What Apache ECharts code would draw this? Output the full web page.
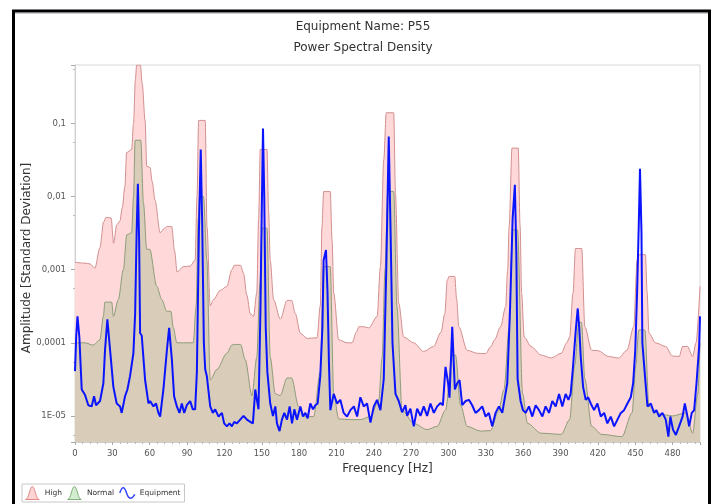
<!DOCTYPE html>
<html>
<head>
<meta charset="utf-8">
<script src="https://cdn.jsdelivr.net/npm/echarts@6/dist/echarts.min.js"></script>
<style>
html,body{margin:0;padding:0;background:#fff;}
#chart{width:713px;height:504px;}
</style>
</head>
<body>
<div id="chart"></div>
<script>
// ---- data ----
var titleText = 'Equipment Name: P55';
var subTitleText = 'Power Spectral Density';
var xAxisName = 'Frequency [Hz]';
var yAxisName = 'Amplitude [Standard Deviation]';
var xTickValues = [0,30,60,90,120,150,180,210,240,270,300,330,360,390,420,450,480];
var yTickValues = [1e-5, 1e-4, 1e-3, 1e-2, 1e-1];
var yTickLabels = ['1E-05', '0,0001', '0,001', '0,01', '0,1'];
var seriesNames = ['High', 'Normal', 'Equipment'];

var highFreq = [0,8,12,16,20,23,25,29,31,33.5,36,38,40,41.5,45.5,47,48.5,49.5,52.5,54,56.3,57.6,60.3,62,64.3,68.4,72,74,77.7,80,82,87,92.5,96.5,98,99.3,104.6,106,108.6,111.2,116.6,122,126,128,133,135.4,138,140.8,143.4,146,147.5,148.8,154.2,155.5,156.8,159.5,164.9,170.3,174,177,181,186.4,194.4,197,198.4,199.7,205,206.5,207.8,211.8,218.5,222.5,226,228,232,236,242.7,245.3,248,250,256,257.4,260,264,272,280,288,294,297,299,300.5,305,306.5,308.3,315,323,329.8,334,337,341.8,345.9,347.5,348.7,351,356,357.5,358.7,360.8,366.3,374.4,382.5,390.6,395,397.3,400,402,407,409.5,415,420.3,428.4,436.6,443.3,448.8,451.5,452.8,458.2,459.5,461,466.3,474.5,479.8,485.3,488,492,496.1,498.8,502];
var highAmp = [1.26e-3,1.23e-3,1.2e-3,1.05e-3,2.0e-3,4.5e-3,5.2e-3,5.1e-3,2.3e-3,4.1e-3,4.6e-3,7.1e-3,0.0135,0.040,0.044,0.1,0.4,0.63,0.63,0.35,0.11,0.026,0.025,0.016,8.9e-3,3.2e-3,3.7e-3,3.9e-3,3.9e-3,1.8e-3,9.3e-4,1.1e-3,1.12e-3,1.35e-3,0.01,0.11,0.11,3.9e-3,3.2e-4,3.9e-4,5.2e-4,5.9e-4,1.0e-3,1.15e-3,1.15e-3,8.9e-4,4.5e-4,2.5e-4,2.3e-4,4.8e-4,5e-3,0.044,0.044,6.3e-3,1.35e-3,3.9e-4,2.1e-4,3.8e-4,3.8e-4,2.5e-4,1.35e-4,1.15e-4,1.17e-4,3.2e-4,3.9e-3,0.0117,0.0117,2.5e-3,4.8e-4,1.1e-4,1.0e-4,1.0e-4,1.4e-4,1.66e-4,1.66e-4,1.6e-4,2.3e-4,1.1e-3,0.032,0.14,0.14,0.011,3.5e-4,1.2e-4,1.0e-4,7.6e-5,8.9e-5,1.4e-4,2.5e-4,7.2e-4,8.1e-4,8.1e-4,4e-4,1.66e-4,7.9e-5,7.2e-5,7.1e-5,8.9e-5,1.1e-4,1.66e-4,3.1e-4,1e-3,3.9e-3,0.046,0.046,4e-3,4.8e-4,1.2e-4,8.9e-5,6.8e-5,6.2e-5,7.2e-5,1e-4,1.2e-4,4.8e-4,1.95e-3,1.95e-3,1.66e-4,7.9e-5,7.8e-5,6.5e-5,6.2e-5,7.9e-5,1.66e-4,1.35e-3,1.6e-3,1.6e-3,5e-4,1.35e-4,1e-4,8.9e-5,6.6e-5,6.5e-5,8.9e-5,8.9e-5,6.5e-5,1e-4,5.9e-4];

var normalFreq = [0,8,14.7,20,22.8,24,29.5,30.8,34.8,38.8,41.6,45.5,47,48.3,52.8,55,57.6,60,65.7,69.7,73.7,77,79,81.8,87,95,97.3,99,100,103.2,105.9,108.6,113.9,122,126,128,133,136.7,142.1,146,148.5,150.2,154.2,156.8,160.9,164.9,170.3,174,179.6,185,191.7,197,199.7,205,207.8,211.8,221,229,237.3,244,246.7,249,251.2,256,258.6,262.7,272,282.8,290.9,297.6,303,305.6,309.7,315,325.7,333.8,340,344.6,348.7,351.4,355.4,359.5,363.5,374.4,390.6,397.3,401.4,404.6,406.8,409.5,415,423,439.3,447.4,450.5,452.8,457.7,461,469,479.8,490.7,496.1,500.2,502];
var normalAmp = [1.0e-4,1.0e-4,9.3e-5,1.1e-4,2.3e-4,3.6e-4,3.6e-4,2.3e-4,3.9e-4,1e-3,3.0e-3,3.2e-3,0.01,0.059,0.059,8.1e-3,1.9e-3,1.9e-3,5.9e-4,3.9e-4,2.7e-4,2.7e-4,1.6e-4,1.0e-4,1.0e-4,1e-4,3.2e-4,5e-3,0.01,0.01,1.35e-3,3.1e-5,4.3e-5,7.2e-5,9.3e-5,9.5e-5,9.5e-5,5.9e-5,1.9e-5,6.3e-5,6.3e-4,3.7e-3,3.7e-3,6.3e-5,2.0e-5,1.9e-5,3.3e-5,3.3e-5,1.35e-5,9.8e-6,9.8e-6,4e-5,1.1e-3,1.1e-3,2.0e-5,9.1e-6,8.9e-6,8.9e-6,9.8e-6,1.66e-5,6.3e-5,1e-3,0.0117,0.0117,3.1e-4,1.2e-5,7.9e-6,6.5e-6,7.2e-6,1.2e-5,6.8e-5,6.8e-5,1.4e-5,7.2e-6,6.2e-6,6.3e-6,1.15e-5,2.3e-5,1.6e-4,3.5e-3,3.5e-3,2.0e-5,7.9e-6,5.8e-6,5.6e-6,8.9e-6,5e-5,1.9e-4,1.9e-4,3.2e-5,7.2e-6,5.6e-6,5.2e-6,1.1e-5,5e-5,1.5e-4,1.5e-4,1.35e-5,1.07e-5,1e-5,1.1e-5,5.8e-6,2e-5,1e-4];

var equipFreq = [0,1,2,3.5,5.4,8,10.7,13.4,15.3,16.9,18.5,20.1,22.8,24.1,26,28.2,30.8,33.5,36.2,37.5,40.2,42.1,44.2,46.9,48.3,49.5,50.5,51.5,52.3,53.6,56.3,59,60.3,63,65.1,67,68.4,71,73.8,75.6,77.8,79.6,81.8,83.9,85.8,87.7,89.8,92.5,94.6,96.5,97.9,99.5,101,102.2,103.5,104.6,105.9,108.6,110.7,112.6,115.3,118,119.8,122,124.1,126,127.9,130,132.7,135.4,138.1,140.8,142.9,144.8,146.1,147.4,149,150,151,152,153.2,154.5,156.8,159,160.9,162.2,164.3,166.2,168.1,170.3,172.4,174.3,176.2,178.3,181,183.1,185,186.9,189,191.2,193,194.9,197,198.7,199.7,201.6,202.8,204,205.1,207.8,210.5,213.1,215.8,218.5,221.2,224,226.6,229.2,231.9,234.6,237.3,240,242.6,245.3,248,250,252,253.5,255,257.4,260,262.7,265.4,266.8,269.4,272.1,274.8,277.5,280.1,282.8,285.5,288.2,290.9,293.6,295.5,297.6,299.7,300.8,303,305.1,307,308.9,311,313.7,316.4,319,321.7,324.4,327.1,329.8,332.4,335.1,337.8,340.5,343.2,344.5,347.2,349.5,351.5,353.3,354.5,355.5,357.9,359.8,362,364.6,367.3,370,372.7,375.4,378,380.7,383.4,386.1,388.8,391.4,394.1,396.3,398.1,400,402.2,403.8,405,406.2,408.1,410.2,412.2,414.2,416.9,419.6,422.3,425,427.6,430.3,433,435.7,438.4,441,443.7,446.4,448.3,450,451.5,452.8,453.8,455,455.7,458.5,459.8,462.5,465.1,467,469.2,471.8,474.5,476.6,478.2,480.3,482.6,485.2,488,489.8,491.9,493.3,495.4,497.3,499.2,501.3,502];
var equipAmp = [4.1e-5,1.26e-4,2.3e-4,1.2e-4,2.3e-5,1.95e-5,1.4e-5,1.35e-5,1.86e-5,1.4e-5,1.48e-5,1.6e-5,2.8e-5,7.9e-5,2.1e-4,7.9e-5,2.5e-5,1.48e-5,1.35e-5,1.1e-5,1.86e-5,2.3e-5,3.5e-5,7.2e-5,2.5e-4,3.2e-3,0.015,2.5e-3,1.35e-4,1.26e-4,3.1e-5,1.48e-5,1.6e-5,1.35e-5,1.48e-5,1.1e-5,9.8e-6,2.3e-5,7.9e-5,1.6e-4,5.9e-5,1.86e-5,1.35e-5,1.1e-5,1.48e-5,1.1e-5,1.4e-5,1.6e-5,1.23e-5,1.23e-5,4e-5,3.2e-3,0.044,4e-3,1e-4,4.3e-5,3.5e-5,1.35e-5,1.1e-5,1.23e-5,9.8e-6,1.1e-5,7.9e-6,7.2e-6,7.9e-6,7.2e-6,8.3e-6,7.9e-6,8.9e-6,1e-5,8.9e-6,8.3e-6,7.9e-6,2.3e-5,1.66e-5,1.23e-5,3.2e-4,6.3e-3,0.085,0.01,1.6e-4,4e-5,1.48e-5,1e-5,1.35e-5,7.9e-6,6.2e-6,8.9e-6,1.1e-5,8.9e-6,1.35e-5,7.9e-6,1.23e-5,8.9e-6,1.35e-5,9.8e-6,1.1e-5,9.3e-6,1.48e-5,1.23e-5,1.4e-5,1.48e-5,3.5e-5,1.6e-4,1.35e-3,1.86e-3,5e-4,5e-5,1.2e-5,2.0e-5,1.48e-5,1.66e-5,1.1e-5,9.8e-6,1.2e-5,1.35e-5,9.8e-6,1.8e-5,1.35e-5,1.48e-5,8.1e-6,1.35e-5,1.66e-5,1.2e-5,3.2e-5,1e-3,0.066,3.2e-3,1e-4,2.0e-5,1.6e-5,1.12e-5,1.4e-5,1e-5,1.26e-5,7.2e-6,1.26e-5,1e-5,1.35e-5,1e-5,1.48e-5,1.1e-5,1.35e-5,1.5e-5,1.4e-5,4.7e-5,2.8e-5,1.78e-5,1.66e-4,2.3e-5,2.8e-5,3.1e-5,1.4e-5,1.6e-5,1.66e-5,1.4e-5,1.1e-5,1.2e-5,1.35e-5,9.8e-6,1.1e-5,7.2e-6,1.1e-5,1.35e-5,1.1e-5,1.5e-5,2.8e-5,3.2e-4,5e-3,0.0145,1.6e-3,3.2e-5,1.6e-5,1.2e-5,1.1e-5,1.35e-5,9.8e-6,1.4e-5,1.2e-5,9.8e-6,1.35e-5,1.1e-5,1.6e-5,1.35e-5,2.0e-5,1.35e-5,2.0e-5,1.66e-5,2.0e-5,4.7e-5,1.48e-4,2.95e-4,1.6e-4,6.5e-5,2.5e-5,1.66e-5,1.8e-5,1.48e-5,1.2e-5,1.48e-5,9.8e-6,1.1e-5,7.9e-6,9.8e-6,7.2e-6,8.9e-6,1.1e-5,1.2e-5,1.48e-5,1.8e-5,2.8e-5,7.9e-5,5e-4,4e-3,0.024,3.2e-3,1e-4,2.5e-5,1.35e-5,1.48e-5,1.1e-5,1.2e-5,9.8e-6,1.1e-5,8.9e-6,5.2e-6,9.8e-6,6.5e-6,5.5e-6,7.2e-6,9.8e-6,1.48e-5,9.8e-6,7.2e-6,1.1e-5,1.2e-5,2.8e-5,8.9e-5,2.3e-4];

function zip(fs, vs) { return fs.map(function (f, i) { return [f, vs[i]]; }); }

var chart = echarts.init(document.getElementById('chart'), null, {renderer: 'canvas'});
var FONT = 'DejaVu Sans';
chart.setOption({
  animation: false,
  backgroundColor: '#ffffff',
  title: [
    {text: titleText, left: 358, top: 16, textAlign: 'center',
     textStyle: {fontFamily: FONT, fontSize: 12, fontWeight: 'normal', color: '#333'}},
    {text: subTitleText, left: 358, top: 37, textAlign: 'center',
     textStyle: {fontFamily: FONT, fontSize: 12, fontWeight: 'normal', color: '#333'}}
  ],
  graphic: [
    {type: 'rect', shape: {x: 13.5, y: 11, width: 696, height: 520}, style: {fill: 'none', stroke: '#000', lineWidth: 3}, z: 100},
    {type: 'line', shape: {x1: 15, y1: 13.5, x2: 708, y2: 13.5}, style: {stroke: '#c8ccd4', lineWidth: 1}, z: 100},
    {type: 'text', x: 27, y: 258, rotation: Math.PI / 2,
     style: {text: yAxisName, font: '12px "DejaVu Sans"', fill: '#333', textAlign: 'center', textVerticalAlign: 'middle'}, z: 100}
  ],
  grid: {left: 75, right: 13, top: 65, bottom: 62, show: true, borderColor: '#d8d8d8', borderWidth: 1, backgroundColor: '#fff'},
  legend: {
    left: 22, top: 484, orient: 'horizontal',
    padding: [2, 4, 2, 3], itemGap: 5, itemWidth: 15, itemHeight: 13,
    borderColor: '#c8c8c8', borderWidth: 1, backgroundColor: '#fff',
    textStyle: {fontFamily: FONT, fontSize: 7.5, color: '#333'},
    data: [
      {name: seriesNames[0], icon: 'path://M0,20 C5,20 6,1 10,1 C14,1 15,20 20,20 Z',
       itemStyle: {color: '#fdd3d3', borderColor: '#e08a8a', borderWidth: 1}},
      {name: seriesNames[1], icon: 'path://M0,20 C5,20 6,1 10,1 C14,1 15,20 20,20 Z',
       itemStyle: {color: '#d4ecd0', borderColor: '#7fb07a', borderWidth: 1}},
      {name: seriesNames[2], icon: 'path://M0,9 C3,0 6,0 9,9 C12,18 16,18 20,11',
       itemStyle: {color: 'transparent', borderColor: '#3344ff', borderWidth: 1.5}}
    ]
  },
  xAxis: {
    type: 'value', min: 0, max: 502, interval: 30,
    name: xAxisName, nameLocation: 'middle', nameGap: 21,
    nameTextStyle: {fontFamily: FONT, fontSize: 12, color: '#333'},
    axisLine: {show: true, lineStyle: {color: '#cfcfcf'}},
    axisTick: {show: true, length: 3, lineStyle: {color: '#aaa'}},
    minorTick: {show: true, splitNumber: 5, length: 2, lineStyle: {color: '#bbb'}},
    splitLine: {show: false},
    axisLabel: {fontFamily: FONT, fontSize: 8.5, color: '#555', margin: 7, showMaxLabel: false,
      formatter: function (v) { return xTickValues.indexOf(v) >= 0 ? String(v) : ''; }}
  },
  yAxis: {
    type: 'log', logBase: 10, min: 4.4e-6, max: 0.63,
    axisLine: {show: true, lineStyle: {color: '#cfcfcf'}},
    axisTick: {show: true, length: 4, lineStyle: {color: '#aaa'}},
    minorTick: {show: true, splitNumber: 2, length: 2, lineStyle: {color: '#bbb'}},
    splitLine: {show: false},
    axisLabel: {fontFamily: FONT, fontSize: 8.5, color: '#555', margin: 9, showMinLabel: false, showMaxLabel: false,
      formatter: function (v) {
        var e = Math.log10(v), r = Math.round(e);
        if (Math.abs(e - r) > 1e-6) return '';
        for (var i = 0; i < yTickValues.length; i++) {
          if (Math.round(Math.log10(yTickValues[i])) === r) return yTickLabels[i];
        }
        return '';
      }}
  },
  series: [
    {name: seriesNames[0], type: 'line', data: zip(highFreq, highAmp), showSymbol: false,
     smooth: 0.3, smoothMonotone: 'x',
     lineStyle: {color: '#d28e8e', width: 1}, itemStyle: {color: '#d28e8e'},
     areaStyle: {color: '#ffd9d9', opacity: 1, origin: 'start'}, z: 1},
    {name: seriesNames[1], type: 'line', data: zip(normalFreq, normalAmp), showSymbol: false,
     smooth: 0.3, smoothMonotone: 'x',
     lineStyle: {color: '#8c9c78', width: 1}, itemStyle: {color: '#8c9c78'},
     areaStyle: {color: '#d9cdb9', opacity: 1, origin: 'start'}, z: 2},
    {name: seriesNames[2], type: 'line', data: zip(equipFreq, equipAmp), showSymbol: false,
     smooth: false,
     lineStyle: {color: '#0a14ff', width: 2}, itemStyle: {color: '#0a14ff'}, z: 3}
  ]
});
</script>
</body>
</html>
